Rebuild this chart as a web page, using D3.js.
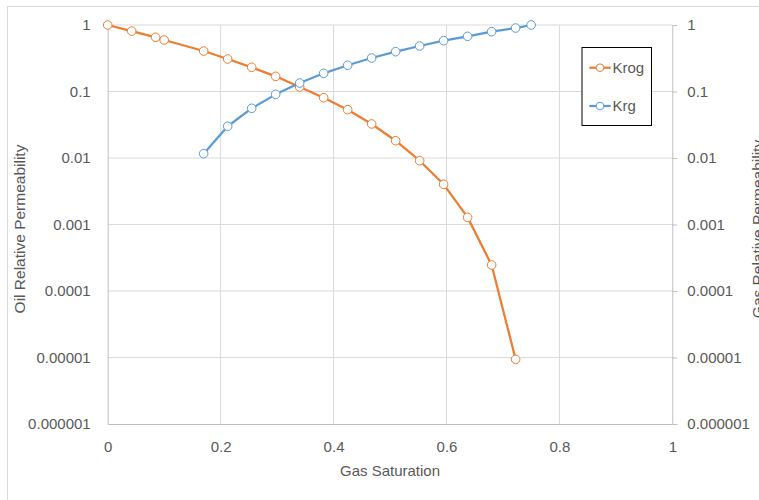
<!DOCTYPE html>
<html>
<head>
<meta charset="utf-8">
<script src="https://cdn.jsdelivr.net/npm/d3@7"></script>
<style>
  html, body { margin: 0; padding: 0; background: #fff; }
  svg { display: block; font-family: "Liberation Sans", Arial, sans-serif; }
</style>
</head>
<body>
<svg id="chart" width="759" height="500"></svg>
<script>
// Gas saturation for the oil curve (Krog) and the gas curve (Krg)
const sgOil = [0, 0.0425, 0.085, 0.1, 0.17, 0.2125, 0.255, 0.2975, 0.34, 0.3825, 0.425, 0.4675, 0.51, 0.5525, 0.595, 0.6375, 0.68, 0.7225];
const krog  = [1, 0.81, 0.653, 0.595, 0.406, 0.308, 0.231, 0.169, 0.117, 0.0807, 0.0533, 0.0325, 0.0182, 0.0091, 0.00402, 0.00128, 0.000246, 0.0000094];
const sgGas = [0.17, 0.2125, 0.255, 0.2975, 0.34, 0.3825, 0.425, 0.4675, 0.51, 0.5525, 0.595, 0.6375, 0.68, 0.7225, 0.75];
const krg   = [0.0116, 0.030, 0.0559, 0.0906, 0.134, 0.1876, 0.248, 0.319, 0.397, 0.483, 0.581, 0.676, 0.794, 0.90, 1];

const xTicks = [0, 0.2, 0.4, 0.6, 0.8, 1];
const xTickLabels = ["0", "0.2", "0.4", "0.6", "0.8", "1"];
const yTicks = [1, 0.1, 0.01, 0.001, 0.0001, 0.00001, 0.000001];
const yTickLabels = ["1", "0.1", "0.01", "0.001", "0.0001", "0.00001", "0.000001"];

const seriesNames = ["Krog", "Krg"];
const seriesColors = ["#ED7D31", "#5B9BD5"];

const svg = d3.select("#chart");
const W = 759, H = 500;
const plot = { left: 107.7, right: 672.3, top: 25, bottom: 424 };
const textColor = "#595959";
const gridColor = "#d9d9d9";
const axisColor = "#bfbfbf";
const fontSize = 15;

const x = d3.scaleLinear().domain([0, 1]).range([plot.left, plot.right]);
const yOil = d3.scaleLog().domain([0.000001, 1]).range([plot.bottom, plot.top]);
const yGas = d3.scaleLog().domain([0.000001, 1]).range([plot.bottom, plot.top]);

// chart frame
svg.append("rect")
  .attr("x", 7.5).attr("y", 6.5)
  .attr("width", W + 20).attr("height", H + 20)
  .attr("fill", "#fff").attr("stroke", gridColor).attr("stroke-width", 1);

// gridlines
const grid = svg.append("g");
grid.selectAll("line.h").data(yTicks.slice(0, -1)).join("line")
  .attr("x1", plot.left).attr("x2", plot.right)
  .attr("y1", d => yOil(d)).attr("y2", d => yOil(d))
  .attr("stroke", gridColor).attr("stroke-width", 1);
grid.selectAll("line.v").data(xTicks.slice(1, -1)).join("line")
  .attr("x1", d => x(d)).attr("x2", d => x(d))
  .attr("y1", plot.top).attr("y2", plot.bottom)
  .attr("stroke", gridColor).attr("stroke-width", 1);

// left axis (oil)
const leftAxis = d3.axisLeft(yOil).tickValues(yTicks)
  .tickFormat((d, i) => yTickLabels[i]).tickSize(0).tickPadding(17);
const gl = svg.append("g").attr("transform", `translate(${plot.left},0)`).call(leftAxis);
gl.select(".domain").attr("stroke", axisColor);
gl.selectAll("text").attr("fill", textColor).style("font-size", fontSize + "px")
  .style("font-family", "'Liberation Sans', Arial, sans-serif");

// right axis (gas)
const rightAxis = d3.axisRight(yGas).tickValues(yTicks)
  .tickFormat((d, i) => yTickLabels[i]).tickSize(5).tickPadding(10);
const gr = svg.append("g").attr("transform", `translate(${plot.right},0)`).call(rightAxis);
gr.select(".domain").attr("stroke", axisColor);
gr.selectAll(".tick line").attr("stroke", axisColor);
gr.selectAll("text").attr("fill", textColor).style("font-size", fontSize + "px")
  .style("font-family", "'Liberation Sans', Arial, sans-serif");

// bottom axis
const bottomAxis = d3.axisBottom(x).tickValues(xTicks)
  .tickFormat((d, i) => xTickLabels[i]).tickSize(0).tickPadding(17);
const gb = svg.append("g").attr("transform", `translate(0,${plot.bottom})`).call(bottomAxis);
gb.select(".domain").attr("stroke", axisColor);
gb.selectAll("text").attr("fill", textColor).style("font-size", fontSize + "px")
  .style("font-family", "'Liberation Sans', Arial, sans-serif");

// axis titles
svg.append("text")
  .attr("x", (plot.left + plot.right) / 2).attr("y", 476)
  .attr("text-anchor", "middle").attr("fill", textColor).style("font-size", fontSize + "px")
  .text("Gas Saturation");
svg.append("text")
  .attr("transform", `translate(25,229) rotate(-90)`)
  .attr("text-anchor", "middle").attr("fill", textColor).style("font-size", "15.5px")
  .text("Oil Relative Permeability");
svg.append("text")
  .attr("transform", `translate(763,229) rotate(-90)`)
  .attr("text-anchor", "middle").attr("fill", textColor).style("font-size", "15.5px")
  .text("Gas Relative Permeability");

// series
const series = [
  { name: seriesNames[0], color: seriesColors[0], xs: sgOil, ys: krog, y: yOil },
  { name: seriesNames[1], color: seriesColors[1], xs: sgGas, ys: krg, y: yGas }
];

series.forEach(s => {
  const pts = s.xs.map((v, i) => [v, s.ys[i]]);
  const line = d3.line().x(d => x(d[0])).y(d => s.y(d[1]));
  const g = svg.append("g");
  g.append("path").datum(pts)
    .attr("d", line).attr("fill", "none")
    .attr("stroke", s.color).attr("stroke-width", 2.25).attr("stroke-linejoin", "round");
  g.selectAll("circle").data(pts).join("circle")
    .attr("cx", d => x(d[0])).attr("cy", d => s.y(d[1])).attr("r", 4.3)
    .attr("fill", "#fff").attr("stroke", s.color).attr("stroke-width", 1);
});

// legend
const legend = svg.append("g");
legend.append("rect")
  .attr("x", 582).attr("y", 47.5).attr("width", 69.5).attr("height", 78)
  .attr("fill", "#fff").attr("stroke", "#000").attr("stroke-width", 1);
const legendY = [67.7, 106];
series.forEach((s, i) => {
  const ly = legendY[i];
  legend.append("line")
    .attr("x1", 589.3).attr("x2", 610.7).attr("y1", ly).attr("y2", ly)
    .attr("stroke", s.color).attr("stroke-width", 2.25);
  legend.append("circle")
    .attr("cx", 600).attr("cy", ly).attr("r", 3.8)
    .attr("fill", "#fff").attr("stroke", s.color).attr("stroke-width", 1);
  legend.append("text")
    .attr("x", 612.5).attr("y", ly).attr("dy", "0.35em")
    .attr("fill", textColor).style("font-size", fontSize + "px")
    .text(s.name);
});
</script>
</body>
</html>
